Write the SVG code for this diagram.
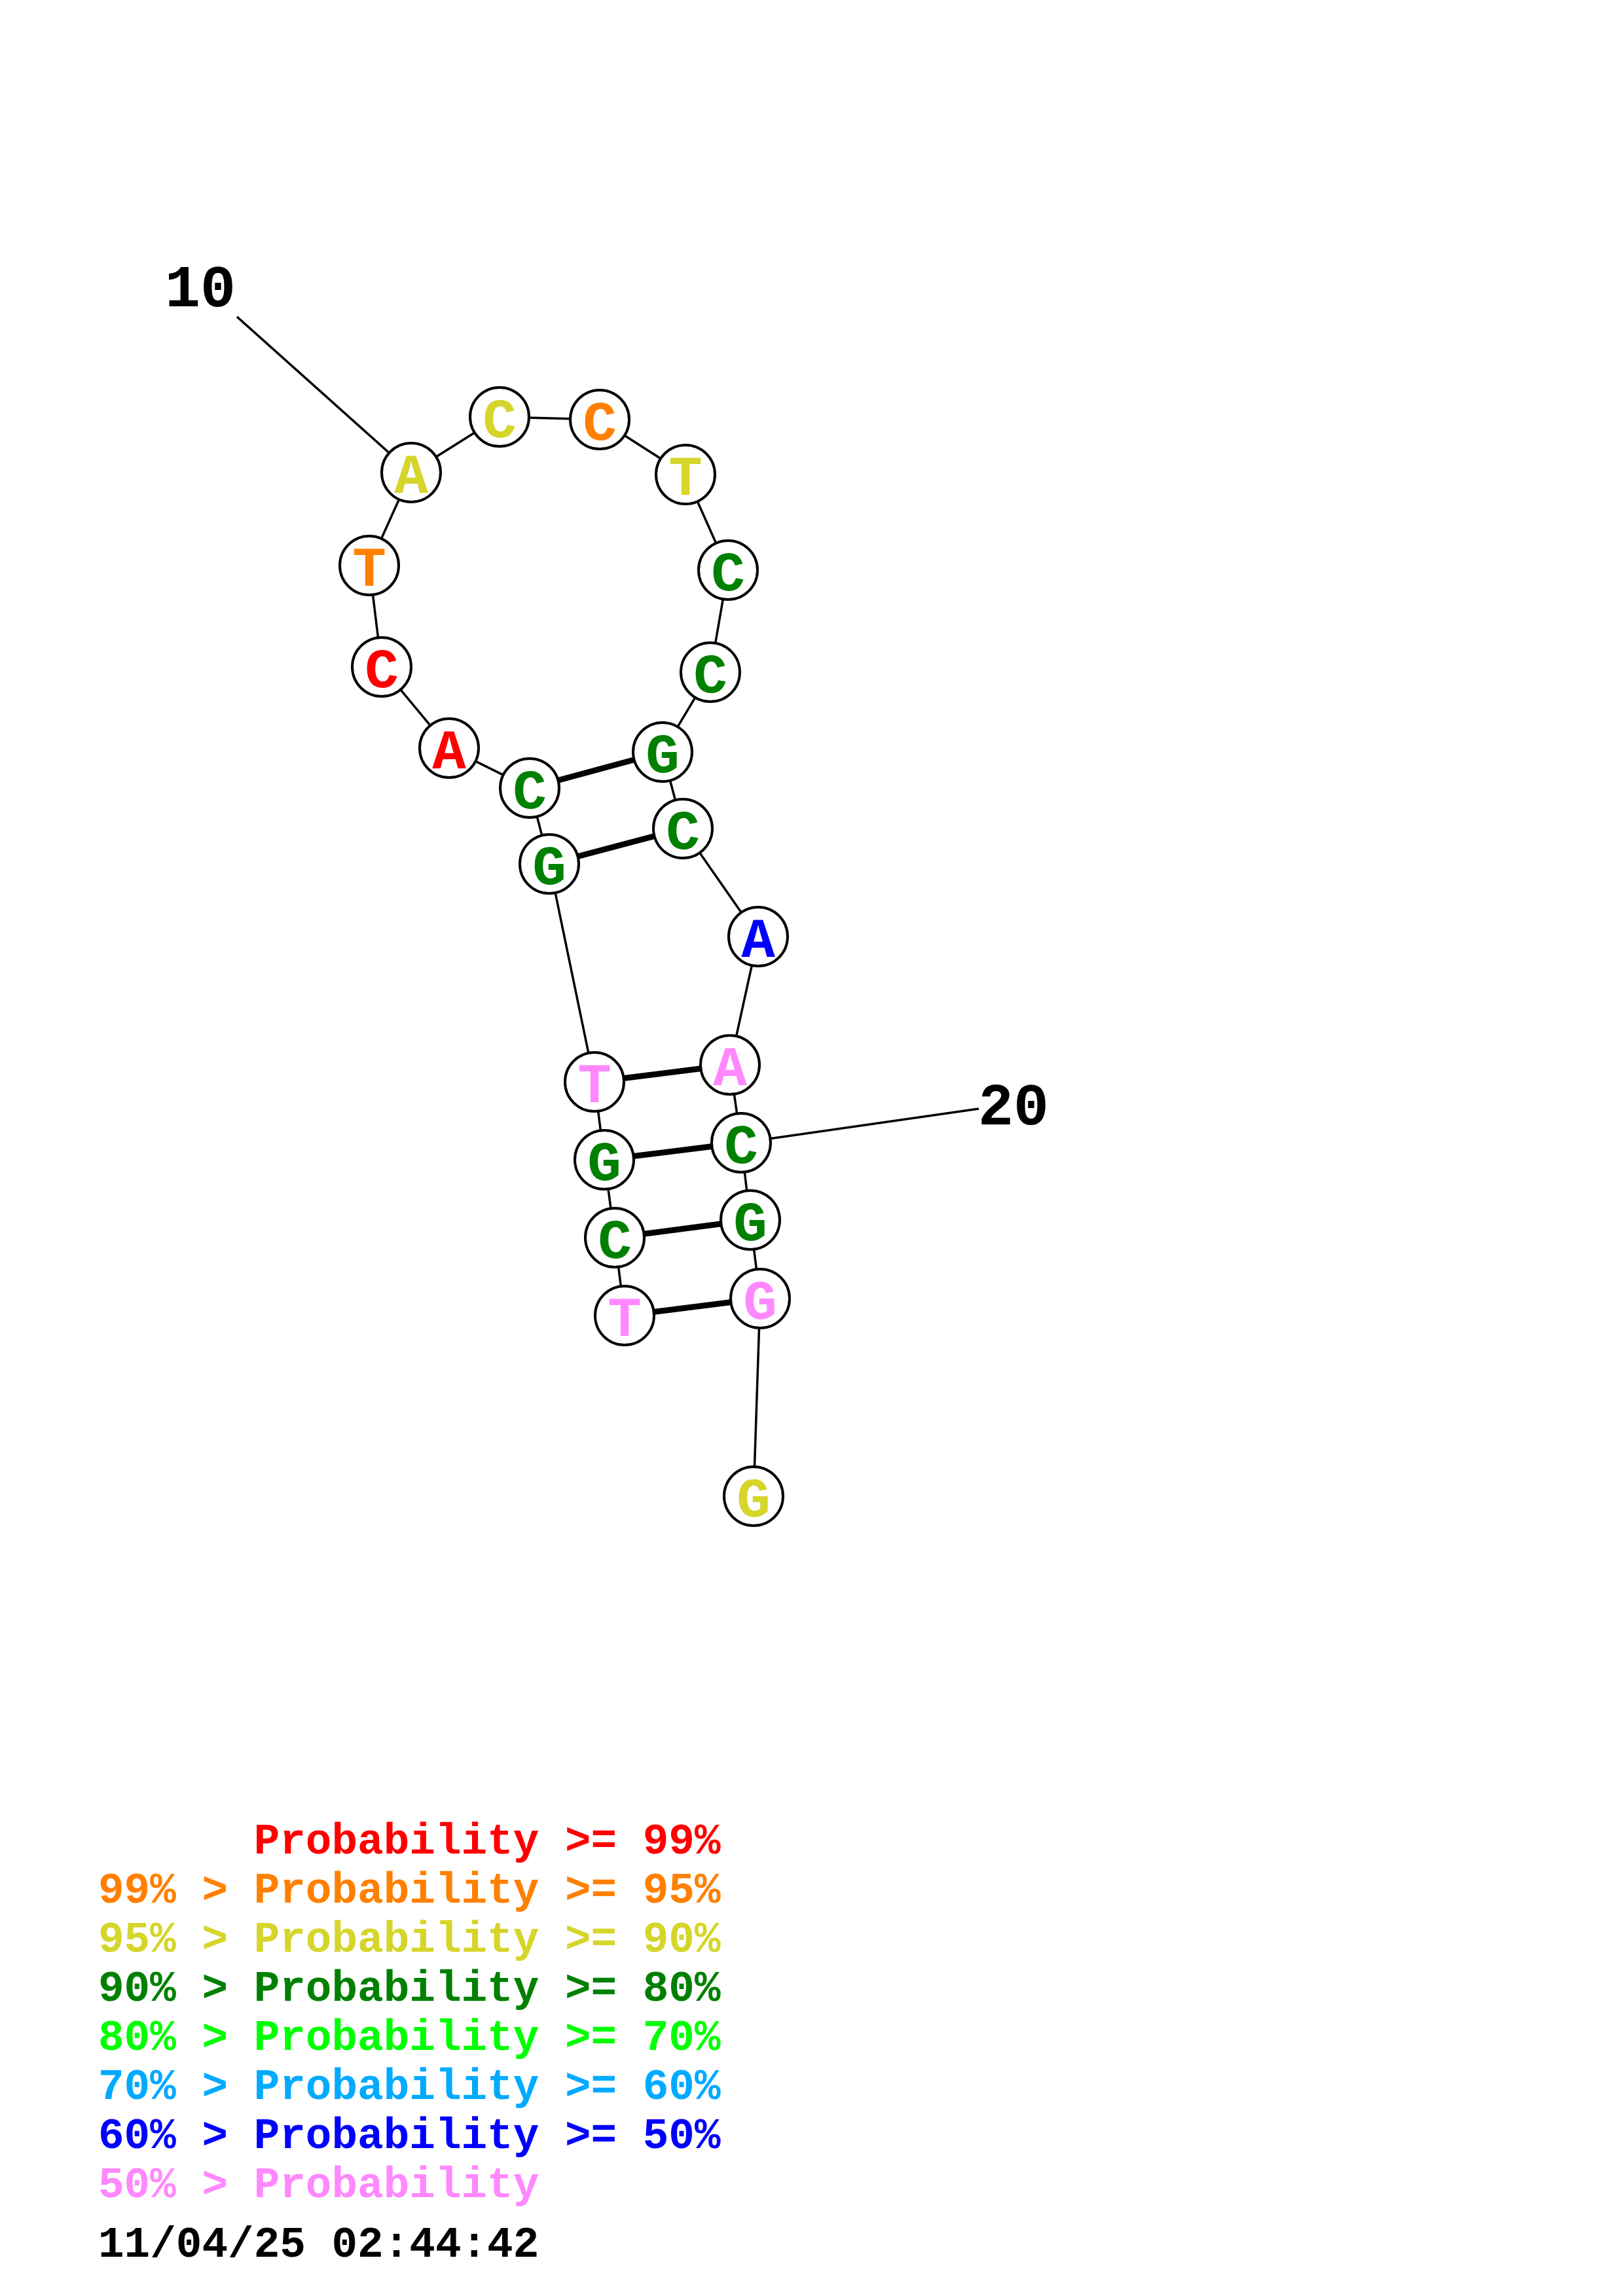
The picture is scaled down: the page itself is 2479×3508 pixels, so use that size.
<svg xmlns="http://www.w3.org/2000/svg" width="2479" height="3508" viewBox="0 0 2479 3508">
<style>
.bb{stroke:#000;stroke-width:3.5;fill:none}
.pr{stroke:#000;stroke-width:9;fill:none}
.nd circle{fill:#fff;stroke:#000;stroke-width:4}
.nd text{font-family:"Liberation Mono","Courier New",monospace;font-weight:bold;font-size:86px;text-anchor:middle}
.lab{font-family:"Liberation Mono","Courier New",monospace;font-weight:bold;font-size:90px;fill:#000}
.leg{font-family:"Liberation Mono","Courier New",monospace;font-weight:bold;font-size:66px;white-space:pre}
.r{fill:#FF0000}.o{fill:#FF8000}.y{fill:#D5D52A}.g{fill:#008000}.lg{fill:#00FF00}.sb{fill:#00AAFF}.b{fill:#0000FF}.p{fill:#FF88FF}
</style>
<rect width="2479" height="3508" fill="#fff"/>
<g id="connectors">
<polyline class="bb" points="954,2010 939,1891 923,1772 908,1653 839,1320 809,1204 686,1143 583,1019 564,864 628,722 763,637 916,641 1047,725 1112,871 1085,1027 1012,1149 1043,1266 1158,1431 1115,1627 1132,1746 1146,1864 1161,1984 1151,2286"/>
<line class="pr" x1="809" y1="1204" x2="1012" y2="1149"/>
<line class="pr" x1="839" y1="1320" x2="1043" y2="1266"/>
<line class="pr" x1="908" y1="1653" x2="1115" y2="1627"/>
<line class="pr" x1="923" y1="1772" x2="1132" y2="1746"/>
<line class="pr" x1="939" y1="1891" x2="1146" y2="1864"/>
<line class="pr" x1="954" y1="2010" x2="1161" y2="1984"/>
<line class="bb" x1="362" y1="484" x2="628" y2="722"/>
<line class="bb" x1="1132" y1="1746" x2="1495" y2="1694"/>
</g>
<g id="n1" class="nd"><circle cx="954" cy="2010" r="45"/><text x="954" y="2041" class="p">T</text></g>
<g id="n2" class="nd"><circle cx="939" cy="1891" r="45"/><text x="939" y="1922" class="g">C</text></g>
<g id="n3" class="nd"><circle cx="923" cy="1772" r="45"/><text x="923" y="1803" class="g">G</text></g>
<g id="n4" class="nd"><circle cx="908" cy="1653" r="45"/><text x="908" y="1684" class="p">T</text></g>
<g id="n5" class="nd"><circle cx="839" cy="1320" r="45"/><text x="839" y="1351" class="g">G</text></g>
<g id="n6" class="nd"><circle cx="809" cy="1204" r="45"/><text x="809" y="1235" class="g">C</text></g>
<g id="n7" class="nd"><circle cx="686" cy="1143" r="45"/><text x="686" y="1174" class="r">A</text></g>
<g id="n8" class="nd"><circle cx="583" cy="1019" r="45"/><text x="583" y="1050" class="r">C</text></g>
<g id="n9" class="nd"><circle cx="564" cy="864" r="45"/><text x="564" y="895" class="o">T</text></g>
<g id="n10" class="nd"><circle cx="628" cy="722" r="45"/><text x="628" y="753" class="y">A</text></g>
<g id="n11" class="nd"><circle cx="763" cy="637" r="45"/><text x="763" y="668" class="y">C</text></g>
<g id="n12" class="nd"><circle cx="916" cy="641" r="45"/><text x="916" y="672" class="o">C</text></g>
<g id="n13" class="nd"><circle cx="1047" cy="725" r="45"/><text x="1047" y="756" class="y">T</text></g>
<g id="n14" class="nd"><circle cx="1112" cy="871" r="45"/><text x="1112" y="902" class="g">C</text></g>
<g id="n15" class="nd"><circle cx="1085" cy="1027" r="45"/><text x="1085" y="1058" class="g">C</text></g>
<g id="n16" class="nd"><circle cx="1012" cy="1149" r="45"/><text x="1012" y="1180" class="g">G</text></g>
<g id="n17" class="nd"><circle cx="1043" cy="1266" r="45"/><text x="1043" y="1297" class="g">C</text></g>
<g id="n18" class="nd"><circle cx="1158" cy="1431" r="45"/><text x="1158" y="1462" class="b">A</text></g>
<g id="n19" class="nd"><circle cx="1115" cy="1627" r="45"/><text x="1115" y="1658" class="p">A</text></g>
<g id="n20" class="nd"><circle cx="1132" cy="1746" r="45"/><text x="1132" y="1777" class="g">C</text></g>
<g id="n21" class="nd"><circle cx="1146" cy="1864" r="45"/><text x="1146" y="1895" class="g">G</text></g>
<g id="n22" class="nd"><circle cx="1161" cy="1984" r="45"/><text x="1161" y="2015" class="p">G</text></g>
<g id="n23" class="nd"><circle cx="1151" cy="2286" r="45"/><text x="1151" y="2317" class="y">G</text></g>
<g id="labels">
<text class="lab" x="252" y="468">10</text>
<text class="lab" x="1494" y="1718">20</text>
</g>
<g id="legend">
<text class="leg r" x="150" y="2832">      Probability &gt;= 99%</text>
<text class="leg o" x="150" y="2907">99% &gt; Probability &gt;= 95%</text>
<text class="leg y" x="150" y="2982">95% &gt; Probability &gt;= 90%</text>
<text class="leg g" x="150" y="3057">90% &gt; Probability &gt;= 80%</text>
<text class="leg lg" x="150" y="3132">80% &gt; Probability &gt;= 70%</text>
<text class="leg sb" x="150" y="3207">70% &gt; Probability &gt;= 60%</text>
<text class="leg b" x="150" y="3282">60% &gt; Probability &gt;= 50%</text>
<text class="leg p" x="150" y="3357">50% &gt; Probability</text>
<text class="leg" x="150" y="3448" fill="#000">11/04/25 02:44:42</text>
</g>
</svg>
